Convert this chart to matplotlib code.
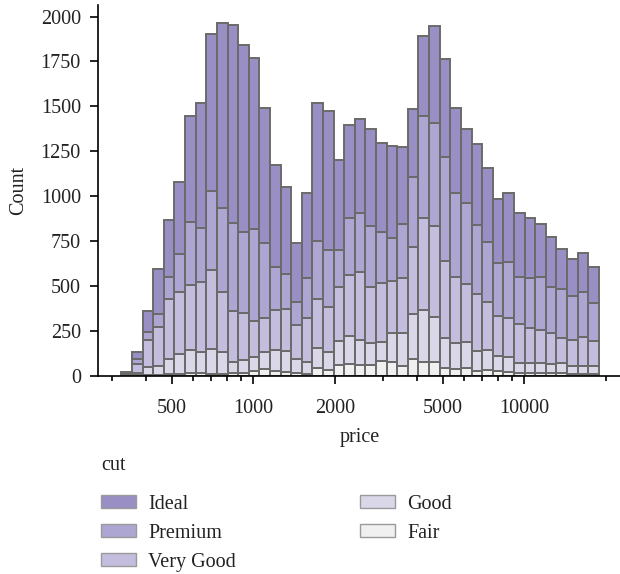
import numpy as np
import matplotlib
matplotlib.use("Agg")
import matplotlib.pyplot as plt
from matplotlib.ticker import FixedLocator, FixedFormatter, NullFormatter
from matplotlib.patches import Patch

plt.rcParams["font.family"] = ["Liberation Serif", "DejaVu Serif"]

# Price histogram of diamonds, log-spaced bins, stacked by cut
price_min = 326
price_max = 18823
n_bins = 45

cuts = ["Ideal", "Premium", "Very Good", "Good", "Fair"]

ideal = [6, 39, 119, 248, 313, 399, 595, 694, 874, 1033, 1101, 1043, 953, 750, 567,
         485, 329, 474, 770, 774, 501, 517, 524, 540, 495, 517, 431, 379, 445, 538,
         546, 469, 410, 450, 412, 357, 385, 356, 338, 293, 278, 221, 208, 217, 205]
premium = [5, 26, 42, 71, 127, 214, 347, 301, 440, 468, 489, 448, 513, 416, 243,
           198, 128, 227, 327, 316, 204, 319, 325, 344, 281, 236, 299, 388, 569, 574,
           579, 472, 451, 384, 335, 292, 312, 260, 275, 297, 260, 275, 245, 251, 208]
very_good = [5, 52, 149, 217, 332, 343, 364, 388, 439, 334, 284, 264, 204, 193, 221,
             231, 191, 241, 273, 250, 301, 338, 380, 312, 329, 289, 306, 373, 514, 507,
             429, 364, 324, 316, 269, 224, 221, 219, 198, 186, 171, 139, 143, 161, 141]
good = [3, 11, 46, 50, 84, 110, 130, 121, 141, 121, 65, 74, 74, 95, 115,
        119, 80, 71, 111, 102, 136, 158, 140, 122, 105, 164, 184, 253, 288, 255,
        163, 147, 148, 115, 111, 82, 82, 56, 52, 56, 52, 56, 47, 47, 45]
fair = [2, 1, 3, 5, 8, 10, 12, 12, 8, 8, 12, 12, 27, 34, 27,
        19, 12, 6, 40, 31, 58, 64, 58, 57, 83, 75, 55, 90, 77, 73,
        44, 36, 40, 23, 31, 27, 19, 12, 16, 12, 12, 12, 8, 8, 8]

series = {"Ideal": ideal, "Premium": premium, "Very Good": very_good,
          "Good": good, "Fair": fair}
colors = {"Ideal": "#998fc4", "Premium": "#ada5d2", "Very Good": "#c4bddd",
          "Good": "#dad7e8", "Fair": "#f0f0f0"}
edge_color = "#6a6a6a"

x_major = [500, 1000, 2000, 5000, 10000]
x_minor = [300, 400, 600, 700, 800, 900, 3000, 4000, 6000, 7000, 8000, 9000, 20000]
y_ticks = [0, 250, 500, 750, 1000, 1250, 1500, 1750, 2000]

fig = plt.figure(figsize=(6.2, 5.74), dpi=100)
ax = fig.add_axes([0.1574, 0.3458, 0.8469, 0.6448])
ax.set_xscale("log")

edges = np.logspace(np.log10(price_min), np.log10(price_max), n_bins + 1)
widths = np.diff(edges)
bottom = np.zeros(n_bins)
for cut in cuts[::-1]:
    vals = np.asarray(series[cut], dtype=float)
    ax.bar(edges[:-1], vals, width=widths, bottom=bottom, align="edge",
           color=colors[cut], edgecolor=edge_color, linewidth=1.4)
    bottom += vals

ax.xaxis.set_major_locator(FixedLocator(x_major))
ax.xaxis.set_major_formatter(FixedFormatter([str(v) for v in x_major]))
ax.xaxis.set_minor_locator(FixedLocator(x_minor))
ax.xaxis.set_minor_formatter(NullFormatter())
ax.yaxis.set_major_locator(FixedLocator(y_ticks))

for side in ("top", "right"):
    ax.spines[side].set_visible(False)
for side in ("left", "bottom"):
    ax.spines[side].set_linewidth(1.2)

ax.tick_params(axis="both", which="major", length=6, width=1.2, labelsize=14.5,
               pad=6, colors="black", labelcolor="#222222")
ax.tick_params(axis="x", which="major", pad=11)
ax.tick_params(axis="x", which="minor", length=3.5, width=1.2)

ax.set_xlabel("price", fontsize=14.5, labelpad=7, color="#222222")
ax.set_ylabel("Count", fontsize=14.5, labelpad=9, color="#222222")

handles = [Patch(facecolor=colors[c], edgecolor="#9a9a9a", linewidth=1.0, label=c)
           for c in cuts]
leg = fig.legend(handles=handles, loc="upper left", bbox_to_anchor=(0.150, 0.219),
                 ncol=2, title="cut", frameon=False, fontsize=14.5, title_fontsize=14.5,
                 alignment="left", handlelength=1.75, handleheight=0.62,
                 handletextpad=0.6, labelspacing=0.5, columnspacing=6.15,
                 borderaxespad=0)
for t in leg.get_texts():
    t.set_color("#222222")
leg.get_title().set_color("#222222")
leg._legend_box.sep = 14

fig.savefig("out.png", dpi=100)
